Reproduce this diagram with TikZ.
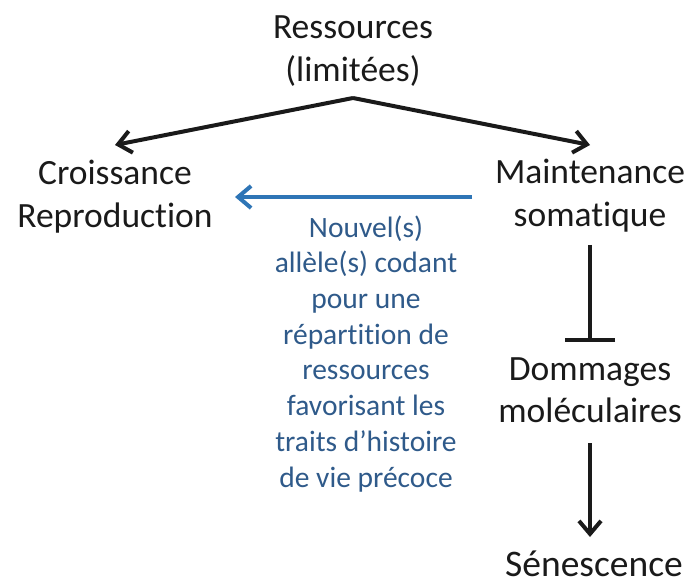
\documentclass[tikz,border=0pt]{standalone}
\usepackage{fontspec}
\setmainfont{Carlito}[Ligatures=NoCommon]
\usetikzlibrary{arrows.meta}
\definecolor{txtblue}{HTML}{2F5A8A}
\definecolor{arrblue}{HTML}{2E75B6}
\definecolor{ink}{HTML}{1A1A1A}
\begin{document}
\begin{tikzpicture}[x=1pt,y=-1pt,
  lbl/.style={align=center,inner sep=0pt,anchor=base,text=ink,font=\fontsize{35.5}{43}\selectfont},
  note/.style={align=center,inner sep=0pt,anchor=base,text=txtblue,font=\fontsize{29.5}{35.7}\selectfont},
  conn/.style={draw=ink,line width=4pt},
  tip/.style={-{Straight Barb[length=13pt,width=22pt,line width=4pt]}},
  inhib/.style={-{Bar[width=50pt,line width=4pt]}}]
\useasboundingbox (0,0) rectangle (689,580);
\node[lbl] (res) at (353,82) {Ressources\\(limitées)};
\node[lbl] (crois) at (115,228) {Croissance\\Reproduction};
\node[lbl] (maint) at (590,227) {Maintenance\\somatique};
\node[lbl] (domm) at (590,423) {Dommages\\moléculaires};
\node[lbl,font=\fontsize{37.5}{43}\selectfont] (sene) at (594,576) {Sénescence};
\node[note] (allele) at (366,487) {Nouvel(s)\\allèle(s) codant\\pour une\\répartition de\\ressources\\favorisant les\\traits d’histoire\\de vie précoce};
\coordinate (apex) at (353,98);
\coordinate (tipL) at (115,145);
\coordinate (tipR) at (590,145);
\draw[conn,tip,line join=round] (apex) -- (tipL);
\draw[conn,tip,line join=round] (apex) -- (tipR);
\coordinate (bS) at (472,197);
\coordinate (bE) at (235,197);
\draw[draw=arrblue,line width=4pt,-{Straight Barb[length=13pt,width=22pt,line width=4pt]}] (bS) -- (bE);
\coordinate (mS) at (590,245);
\coordinate (dN) at (590,342);
\draw[conn,inhib] (mS) -- (dN);
\coordinate (dS) at (590,443);
\coordinate (sN) at (590,537);
\draw[conn,tip] (dS) -- (sN);
\end{tikzpicture}
\end{document}
